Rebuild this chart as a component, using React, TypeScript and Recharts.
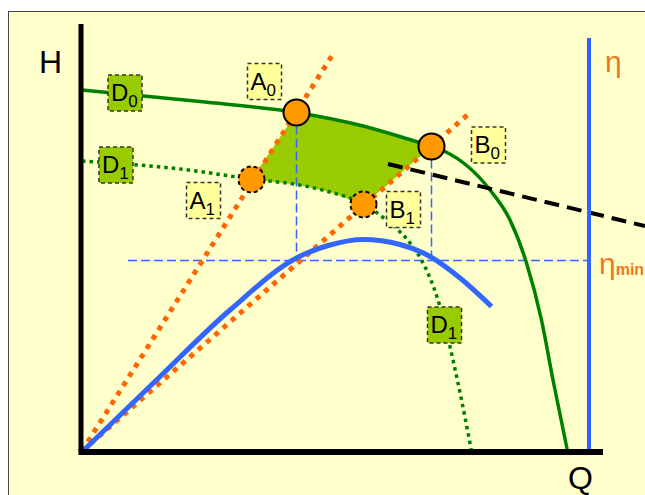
import React from "react";
import { Area, ComposedChart, Line, ReferenceLine, Scatter, XAxis, YAxis } from "recharts";

// head curve D0 (full speed)
const headQ0 = [0, 23.6, 42.9, 56.2, 64.2, 69.9, 72.6, 81.6, 85.6, 88.9, 91.9, 94.2, 97.1];
const headH0 = [72.2, 69.9, 67.7, 65.0, 62.7, 60.9, 59.9, 52.2, 46.2, 37.6, 26.2, 14.2, 0];
// head curve D1 (reduced)
const headQ1 = [0, 23.6, 29.6, 36.6, 42.9, 49.6, 56.3, 60.6, 65.6, 67.9, 71.2, 75.2, 77.9];
const headH1 = [58, 55.9, 55, 54.1, 53.3, 51.8, 49.4, 46.4, 41.6, 38.2, 30.2, 13.6, 0];
// efficiency
const effQ = [0.4, 14.9, 29.6, 42.9, 49.6, 56.2, 63.6, 69.6, 75.6, 81.9];
const effH = [0.2, 14.2, 28.2, 38.6, 41.2, 42.3, 41.3, 38.9, 34.6, 28.9];
// lines from the origin through A and B
const rayAQ = [0, 50.2];
const rayAH = [0, 79.4];
const rayBQ = [0, 77.2];
const rayBH = [0, 67.3];
// black dashed line
const dashQ = [61.2, 112.6];
const dashH = [57.4, 45.0];
// operating points
const pointNames = ["A0", "B0", "A1", "B1"];
const pointQ = [42.9, 69.9, 33.9, 56.3];
const pointH = [67.7, 60.9, 54.3, 49.3];
// zone A0-B0-B1-A1
const zoneQ = [33.9, 42.9, 49.6, 56.3, 60.6, 64.2, 69.9];
const zoneLow = [54.3, 53.3, 51.8, 49.3, 52.8, 56.0, 60.9];
const zoneHigh = [54.3, 67.7, 66.3, 65.0, 63.9, 62.7, 60.9];
// eta
const etaMin = 38.1;
const etaAxisQ = 101.4;
const etaAxisTop = 82.6;
// boxed labels
const tagMain = ["D", "D", "A", "A", "B", "B", "D"];
const tagSub = ["0", "1", "0", "1", "0", "1", "1"];
const tagQ = [8.6, 6.8, 36.5, 24.3, 81.3, 64.3, 72.5];
const tagH = [71.6, 57.2, 73.9, 50.1, 61.2, 48.3, 25.2];
// axis captions
const capText = ["H", "Q", "η", "η"];
const capSub = ["", "", "", "min"];
const capQ = [-6.3, 99.7, 104.6, 103.4];
const capH = [75.6, -7.6, 75.8, 35.4];

const zip = (qs: number[], hs: number[]) => qs.map((q, i) => ({ q, h: hs[i] }));

const GREEN = "#008000";
const ORANGE = "#FF6600";
const BLUE = "#3366FF";
const FONT = "Arial, 'Liberation Sans', sans-serif";

const points = pointNames.map((name, i) => ({ name, q: pointQ[i], h: pointH[i] }));
const tags = tagMain.map((m, i) => ({ main: m, sub: tagSub[i], q: tagQ[i], h: tagH[i] }));
const captions = capText.map((t, i) => ({ text: t, sub: capSub[i], q: capQ[i], h: capH[i] }));
const zone = zoneQ.map((q, i) => ({ q, range: [zoneLow[i], zoneHigh[i]] }));

const PointShape = (props: any) => {
  const dashed = props.payload.name.endsWith("1");
  return (
    <circle cx={props.cx} cy={props.cy} r={13} fill="#FF9900" stroke="#000" strokeWidth={2}
      strokeDasharray={dashed ? "4 3" : undefined} />
  );
};

const TagShape = (props: any) => {
  const { cx, cy, payload } = props;
  const w = 34;
  const hgt = 36;
  const x = cx - w / 2;
  const y = cy - hgt / 2;
  return (
    <g>
      <rect x={x} y={y} width={w} height={hgt} fill={payload.main === "D" ? "#99CC00" : "#FFFF99"}
        stroke="#333" strokeWidth={1.5} strokeDasharray="4 3" />
      <text x={x + 3} y={y + 26} fontFamily={FONT} fill="#000">
        <tspan fontSize={24}>{payload.main}</tspan>
        <tspan fontSize={17} dy={6}>{payload.sub}</tspan>
      </text>
    </g>
  );
};

const CaptionShape = (props: any) => {
  const { cx, cy, payload } = props;
  const isEta = payload.text === "η";
  return (
    <text x={cx} y={cy} fontFamily={FONT} fill={isEta ? "#EE7722" : "#000"}
      textAnchor={isEta ? "start" : "middle"} fontSize={isEta ? 30 : 32}>
      {payload.text}
      {payload.sub ? <tspan fontSize={16} fontWeight="bold" dy={1}>{payload.sub}</tspan> : null}
    </text>
  );
};

export default function App() {
  return (
    <div style={{ position: "absolute", left: 0, top: 0, width: 645, height: 495, background: "#fff", overflow: "hidden" }}>
      <div style={{ position: "absolute", left: 8, top: 11, width: 660, height: 500, background: "#FFFFCC", border: "1.5px solid #444" }} />
      <div style={{ position: "absolute", left: 0, top: 0 }}>
        <ComposedChart width={645} height={495} margin={{ top: 0, right: 0, bottom: 0, left: 0 }}>
          <XAxis dataKey="q" type="number" domain={[-16.4, 112.6]} hide />
          <YAxis type="number" domain={[-8.8, 90.2]} hide />
          <Area data={zone} dataKey="range" type="linear" fill="#99CC00" fillOpacity={1} stroke="none" isAnimationActive={false} />
          <ReferenceLine segment={[{ x: 9.2, y: etaMin }, { x: etaAxisQ, y: etaMin }]} stroke={BLUE} strokeWidth={1.5} strokeDasharray="9 4" />
          <ReferenceLine segment={[{ x: pointQ[0], y: pointH[0] }, { x: pointQ[0], y: etaMin }]} stroke={BLUE} strokeWidth={1.5} strokeDasharray="9 4" />
          <ReferenceLine segment={[{ x: pointQ[1], y: pointH[1] }, { x: pointQ[1], y: etaMin }]} stroke={BLUE} strokeWidth={1.5} strokeDasharray="9 4" />
          <Line data={zip(rayAQ, rayAH)} dataKey="h" type="linear" stroke={ORANGE} strokeWidth={5} strokeDasharray="5 6" dot={false} activeDot={false} isAnimationActive={false} />
          <Line data={zip(rayBQ, rayBH)} dataKey="h" type="linear" stroke={ORANGE} strokeWidth={5} strokeDasharray="5 6" dot={false} activeDot={false} isAnimationActive={false} />
          <Line data={zip(headQ1, headH1)} dataKey="h" type="monotone" stroke={GREEN} strokeWidth={3.5} strokeDasharray="3.5 4" dot={false} activeDot={false} isAnimationActive={false} />
          <Line data={zip(headQ0, headH0)} dataKey="h" type="monotone" stroke={GREEN} strokeWidth={3.5} dot={false} activeDot={false} isAnimationActive={false} />
          <Line data={zip(effQ, effH)} dataKey="h" type="monotone" stroke={BLUE} strokeWidth={5} dot={false} activeDot={false} isAnimationActive={false} />
          <Line data={zip(dashQ, dashH)} dataKey="h" type="linear" stroke="#000" strokeWidth={4} strokeDasharray="15 8" dot={false} activeDot={false} isAnimationActive={false} />
          <ReferenceLine segment={[{ x: etaAxisQ, y: 0 }, { x: etaAxisQ, y: etaAxisTop }]} stroke={BLUE} strokeWidth={4} />
          <ReferenceLine segment={[{ x: -0.2, y: -0.2 }, { x: -0.2, y: 85.4 }]} stroke="#000" strokeWidth={5} />
          <ReferenceLine segment={[{ x: -0.7, y: -0.2 }, { x: 104.2, y: -0.2 }]} stroke="#000" strokeWidth={6} />
          <Scatter data={points} dataKey="h" shape={PointShape} isAnimationActive={false} />
          <Scatter data={tags} dataKey="h" shape={TagShape} isAnimationActive={false} />
          <Scatter data={captions} dataKey="h" shape={CaptionShape} isAnimationActive={false} />
        </ComposedChart>
      </div>
    </div>
  );
}
